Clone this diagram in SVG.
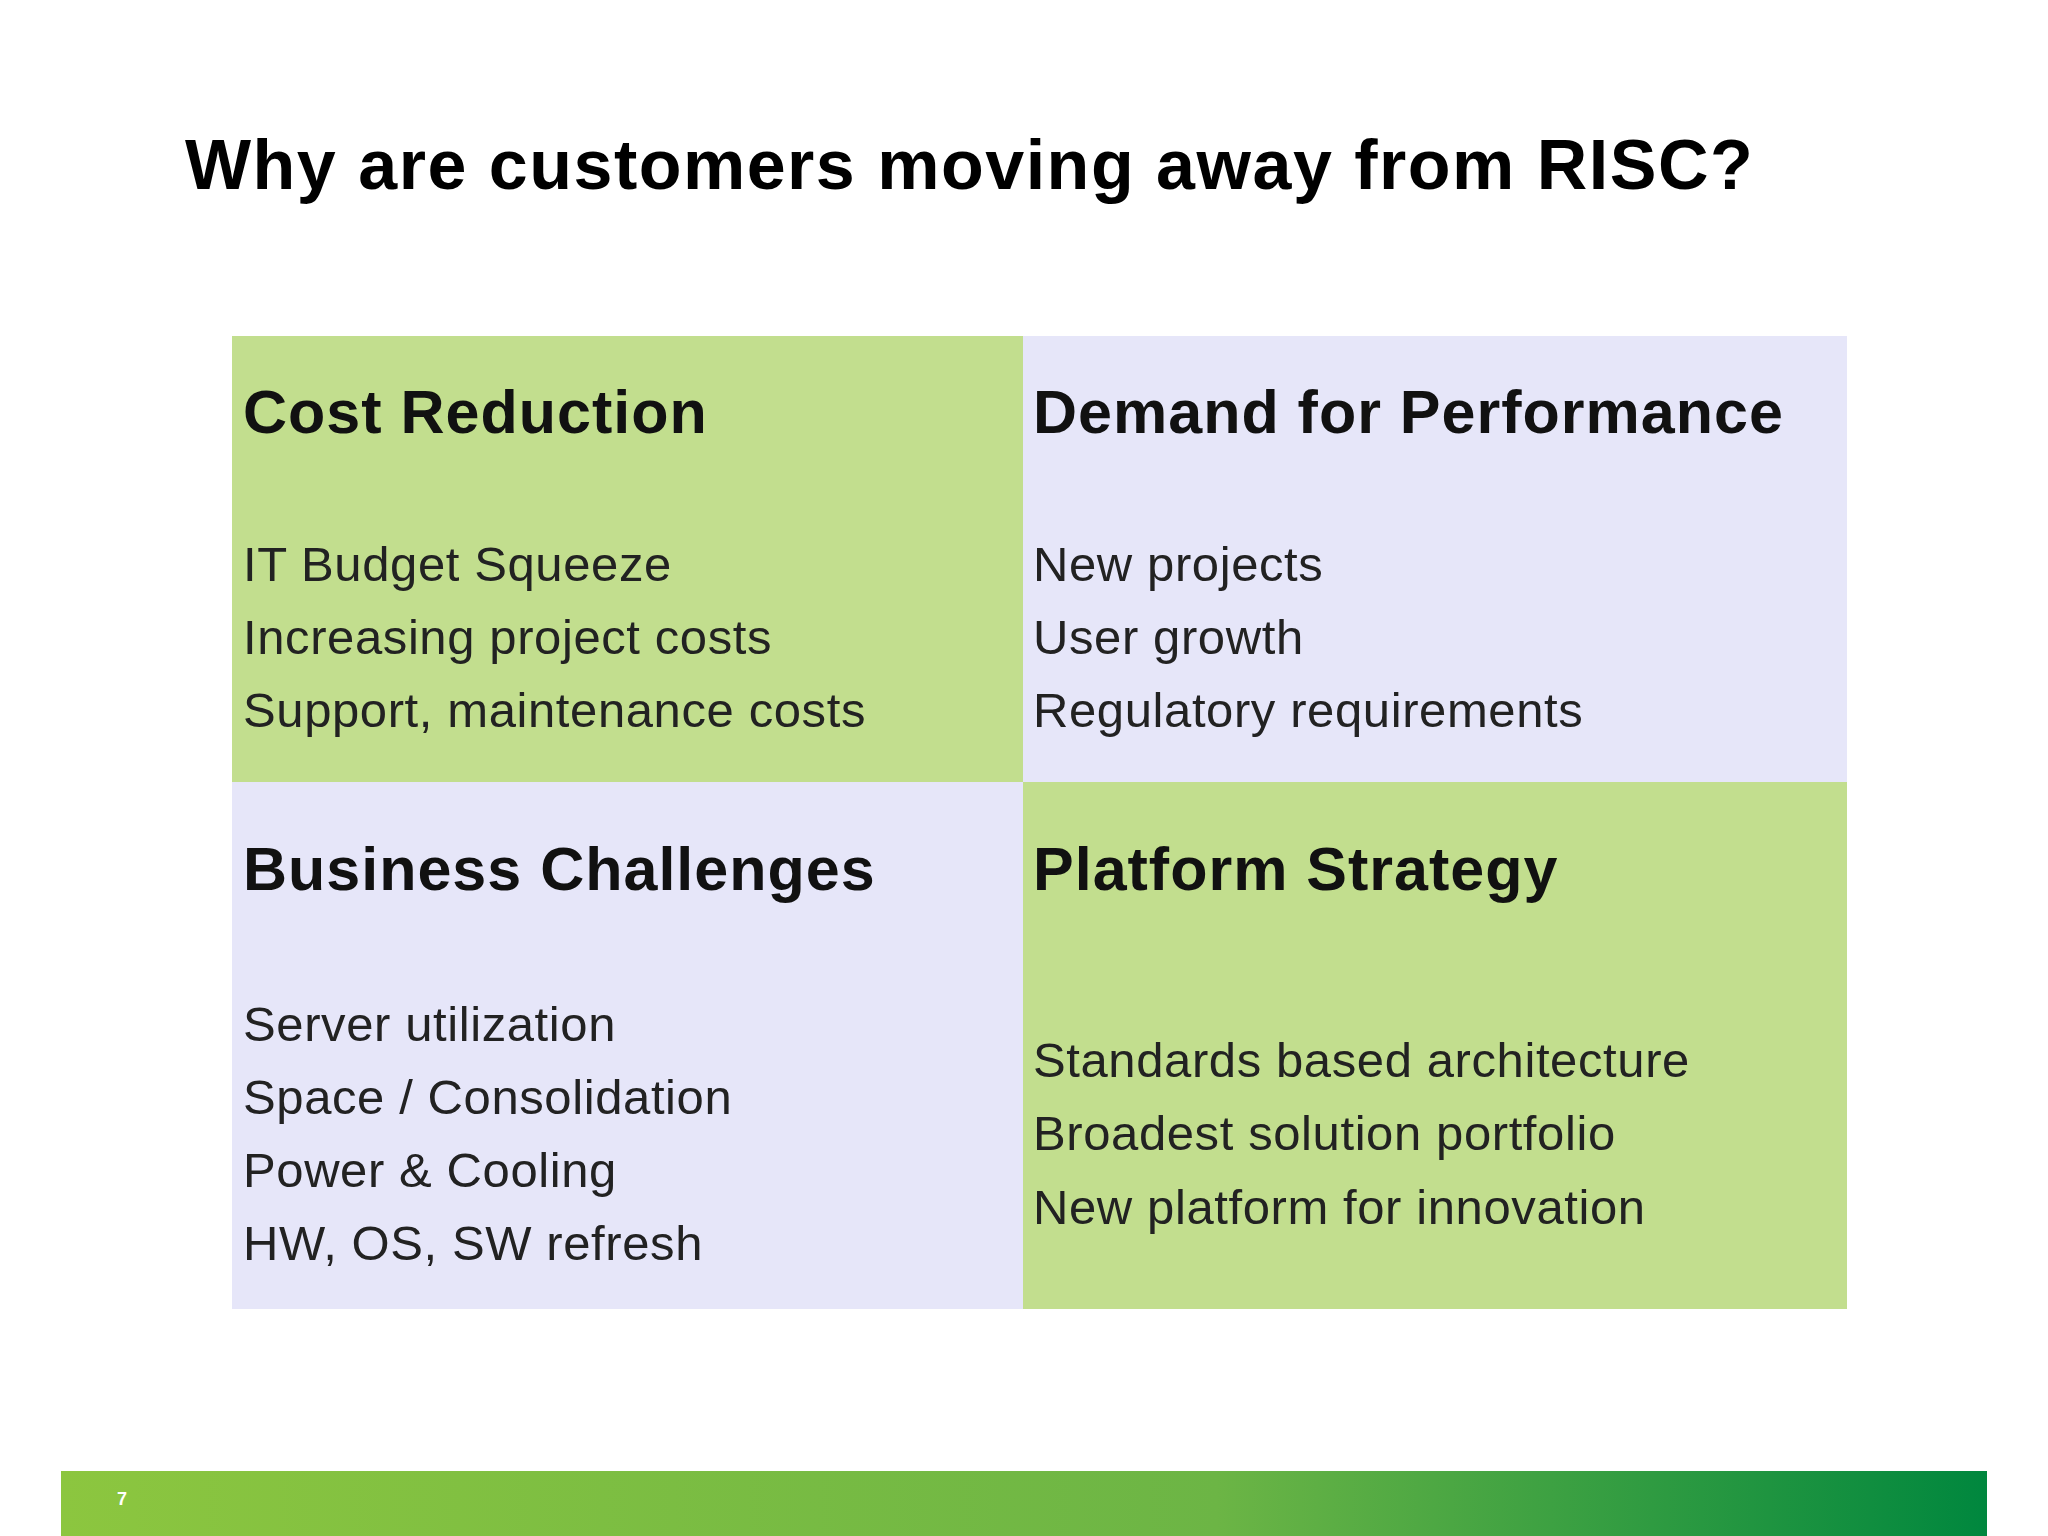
<svg xmlns="http://www.w3.org/2000/svg" width="2048" height="1536" viewBox="0 0 2048 1536">
<defs>
<linearGradient id="bar" x1="0" y1="0" x2="1" y2="0">
<stop offset="0" stop-color="#8cc63f"/><stop offset="0.6" stop-color="#6cb545"/><stop offset="1" stop-color="#00873e"/>
</linearGradient>
<style>
.h{font-family:"Liberation Sans",Arial,sans-serif;font-weight:bold;font-size:61px;fill:#111;letter-spacing:1px}
.b{font-family:"Liberation Sans",Arial,sans-serif;font-size:49px;fill:#222;letter-spacing:0.6px}
</style>
</defs>
<rect width="2048" height="1536" fill="#fff"/>
<text x="185" y="189" font-family="Liberation Sans, Arial, sans-serif" font-weight="bold" font-size="70" letter-spacing="1.5" fill="#000">Why are customers moving away from RISC?</text>
<g id="cost"><rect x="232" y="336" width="791" height="446" fill="#c2de8e"/>
<text class="h" x="243" y="433">Cost Reduction</text>
<text class="b" x="243" y="581">IT Budget Squeeze</text><text class="b" x="243" y="654">Increasing project costs</text><text class="b" x="243" y="727">Support, maintenance costs</text></g>
<g id="demand"><rect x="1023" y="336" width="824" height="446" fill="#e6e6f9"/>
<text class="h" x="1033" y="433">Demand for Performance</text>
<text class="b" x="1033" y="581">New projects</text><text class="b" x="1033" y="654">User growth</text><text class="b" x="1033" y="727">Regulatory requirements</text></g>
<g id="business"><rect x="232" y="782" width="791" height="527" fill="#e6e6f9"/>
<text class="h" x="243" y="890">Business Challenges</text>
<text class="b" x="243" y="1041">Server utilization</text><text class="b" x="243" y="1114">Space / Consolidation</text><text class="b" x="243" y="1187">Power &amp; Cooling</text><text class="b" x="243" y="1260">HW, OS, SW refresh</text></g>
<g id="platform"><rect x="1023" y="782" width="824" height="527" fill="#c2de8e"/>
<text class="h" x="1033" y="890">Platform Strategy</text>
<text class="b" x="1033" y="1077">Standards based architecture</text><text class="b" x="1033" y="1150">Broadest solution portfolio</text><text class="b" x="1033" y="1224">New platform for innovation</text></g>
<g id="connectors"/>
<rect x="61" y="1471" width="1926" height="65" fill="url(#bar)"/>
<text x="117" y="1505" font-family="Liberation Sans, Arial, sans-serif" font-weight="bold" font-size="18" fill="#fff">7</text>
</svg>
